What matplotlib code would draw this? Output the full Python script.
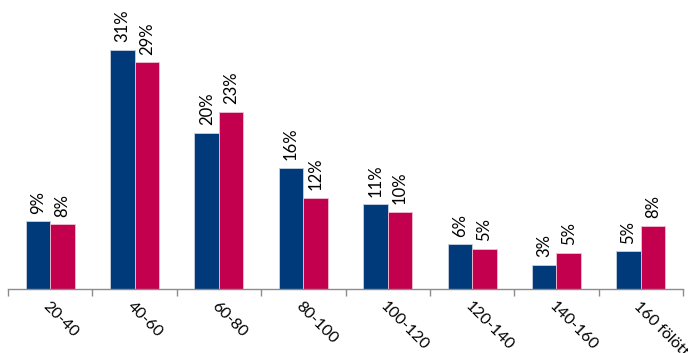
import matplotlib
matplotlib.use("Agg")
import matplotlib.pyplot as plt
import numpy as np

categories = ["20-40", "40-60", "60-80", "80-100", "100-120", "120-140", "140-160", "160 fölött"]
series_blue = [8.8, 31.0, 20.3, 15.7, 11.0, 5.8, 3.1, 4.9]
series_pink = [8.4, 29.4, 23.0, 11.8, 10.0, 5.2, 4.7, 8.2]
labels_blue = ["9%", "31%", "20%", "16%", "11%", "6%", "3%", "5%"]
labels_pink = ["8%", "29%", "23%", "12%", "10%", "5%", "5%", "8%"]

plt.rcParams['font.family'] = ['Lato', 'DejaVu Sans']

fig = plt.figure(figsize=(6.88, 3.53), dpi=100)
ax = fig.add_axes([8/688, 64/353, 675/688, 289/353])

x = np.arange(len(categories))
w = 0.29
bb = ax.bar(x - w/2, series_blue, w, color="#003A7A", edgecolor="#c8d0e0", linewidth=0.6)
bp = ax.bar(x + w/2, series_pink, w, color="#C2004E", edgecolor="#f0c0d0", linewidth=0.6)

for rect, lab in zip(bb, labels_blue):
    ax.annotate(lab, (rect.get_x() + rect.get_width()/2, rect.get_height()),
                xytext=(0, 5.5), textcoords="offset points", rotation=90,
                ha="center", va="bottom", fontsize=12, color="black")
for rect, lab in zip(bp, labels_pink):
    ax.annotate(lab, (rect.get_x() + rect.get_width()/2, rect.get_height()),
                xytext=(0, 5.5), textcoords="offset points", rotation=90,
                ha="center", va="bottom", fontsize=12, color="black")

ax.set_xlim(-0.5, len(categories) - 0.5)
ax.set_ylim(0, 37.5)
for s in ["top", "right", "left"]:
    ax.spines[s].set_visible(False)
ax.spines["bottom"].set_color("#8c8c8c")
ax.spines["bottom"].set_linewidth(1)
ax.set_yticks([])
ax.set_xticks(np.arange(len(categories) + 1) - 0.5, minor=False)
ax.set_xticklabels([])
ax.tick_params(axis="x", which="major", length=5, color="#8c8c8c", width=1)
ax.set_xticks(x, minor=True)
ax.set_xticklabels(categories, minor=True, rotation=-45, ha="left", va="top",
                   rotation_mode="anchor", fontsize=11.5)
ax.tick_params(axis="x", which="minor", length=0, pad=7)

fig.savefig("out.png", dpi=100, facecolor="white")
